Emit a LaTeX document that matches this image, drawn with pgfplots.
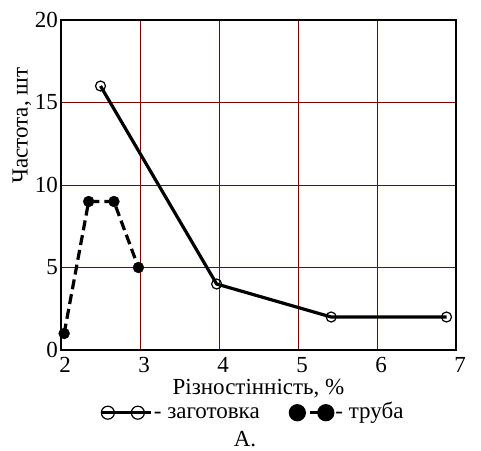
\documentclass[border=0pt]{standalone}
\usepackage{pgfplots}
\pgfplotsset{compat=1.18}
\usepackage{fontspec}
\setmainfont{Liberation Serif}
\definecolor{gridred}{RGB}{128,0,0}
\newcommand{\bigf}{\fontsize{23}{26}\selectfont}
\pgfplotsset{
  legA/.style={legend image code/.code={
     \draw[black, solid, line width=3pt] (0pt,0pt) -- (50pt,0pt);
     \draw[black, solid, line width=1.2pt] (6.5pt,0pt) circle (6.5pt);
     \draw[black, solid, line width=1.2pt] (36.5pt,0pt) circle (6.5pt);}},
  legB/.style={legend image code/.code={
     \fill[black, solid] (7pt,0pt) circle (7pt);
     \draw[black, solid, line width=3pt] (20pt,0pt) -- (28pt,0pt);
     \fill[black, solid] (35.5pt,0pt) circle (7pt);}},
}
\begin{document}
\bigf
\begin{tikzpicture}
\begin{axis}[
  scale only axis, clip=false,
  width=395pt, height=330pt,
  xmin=2, xmax=7, ymin=0, ymax=20,
  xtick={2,3,4,5,6,7}, ytick={0,5,10,15,20},
  grid=major,
  major grid style={gridred, line width=0.9pt},
  axis line style={black, line width=1.6pt},
  tick style={draw=none},
  /pgf/number format/assume math mode=true,
  ticklabel style={font=\bigf},
  xticklabel style={anchor=center, yshift=-15pt, xshift=4pt},
  yticklabel style={anchor=east, inner sep=0pt, xshift=-3pt},
  xlabel={Різностінність, \%},
  ylabel={Частота, шт},
  label style={font=\bigf},
  xlabel style={at={(axis description cs:0.5,-0.118)}, anchor=center},
  ylabel style={at={(axis description cs:-0.099,0.68)}, anchor=center},
  legend columns=2,
  legend style={draw=none, fill=none, font=\bigf,
    at={(axis description cs:0.484,-0.19)}, anchor=center,
    nodes={inner sep=1pt, text height=0.48em, text depth=0em},
    /tikz/every even column/.append style={column sep=28pt}},
  legend cell align=left,
]
\addplot[black, line width=3.2pt, mark=o, mark size=5pt,
  mark options={solid, line width=1.2pt}, legA]
  coordinates {(2.5,16) (3.97,4) (5.42,2) (6.88,2)};
\addlegendentry{- заготовка}
\addplot[black, line width=3.2pt, dash pattern=on 10pt off 5pt, mark=*, mark size=5.5pt,
  mark options={solid, fill=black, line width=0.3pt}, legB]
  coordinates {(2.04,1) (2.35,9) (2.67,9) (2.98,5)};
\addlegendentry{- труба}
\node[font=\bigf, inner sep=0pt] at (axis description cs:0.466,-0.27) {А.};
\end{axis}
\pgfresetboundingbox
\path (current axis.south west) ++(-61pt,-100pt) rectangle ++(481pt,450pt);
\end{tikzpicture}
\end{document}
